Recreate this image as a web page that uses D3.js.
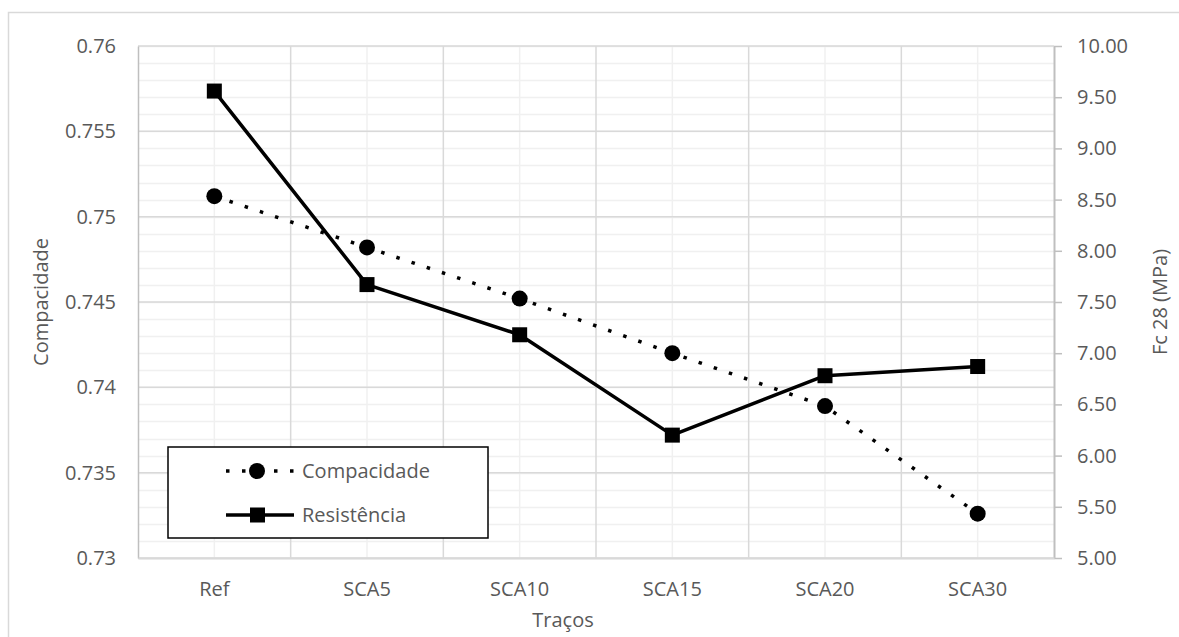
<!DOCTYPE html>
<html>
<head>
<meta charset="utf-8">
<script src="https://cdn.jsdelivr.net/npm/d3@7"></script>
<style>
  body { margin: 0; background: #fff; }
  text { font-family: "Open Sans", sans-serif; fill: #595959; }
</style>
</head>
<body>
<div id="chart"></div>
<script>
var categories = ["Ref", "SCA5", "SCA10", "SCA15", "SCA20", "SCA30"];
var compacidade = [0.7512, 0.7482, 0.7452, 0.7420, 0.7389, 0.7326];
var resistencia = [9.56, 7.67, 7.18, 6.20, 6.78, 6.87];
var leftTicks = [0.73, 0.735, 0.74, 0.745, 0.75, 0.755, 0.76];
var rightTicks = [5, 5.5, 6, 6.5, 7, 7.5, 8, 8.5, 9, 9.5, 10];

var _width = 1179, _height = 637,
    _margins = {top: 46, left: 138, right: 125, bottom: 79},
    _fontSize = "20px";

var svg = d3.select("#chart").append("svg")
    .attr("width", _width)
    .attr("height", _height);

// outer chart border
svg.append("rect")
    .attr("x", 8.5).attr("y", 12.5)
    .attr("width", 1200).attr("height", 700)
    .attr("fill", "none")
    .attr("stroke", "#d9d9d9")
    .attr("stroke-width", 1.5);

function quadrantWidth() { return _width - _margins.left - _margins.right; }
function quadrantHeight() { return _height - _margins.top - _margins.bottom; }

var x = d3.scaleBand().domain(categories).range([0, quadrantWidth()]).padding(0);
var yLeft = d3.scaleLinear().domain([0.73, 0.76]).range([quadrantHeight(), 0]);
var yRight = d3.scaleLinear().domain([5, 10]).range([quadrantHeight(), 0]);

var g = svg.append("g")
    .attr("transform", "translate(" + _margins.left + "," + _margins.top + ")");

// minor grid
var grid = g.append("g").attr("class", "grid");
grid.selectAll("line.hminor")
    .data(yLeft.ticks(30))
  .enter().append("line")
    .attr("x1", 0).attr("x2", quadrantWidth())
    .attr("y1", function (d) { return Math.round(yLeft(d)) + 0.5; })
    .attr("y2", function (d) { return Math.round(yLeft(d)) + 0.5; })
    .attr("stroke", "#f0f0f0").attr("stroke-width", 1.5);
grid.selectAll("line.vminor")
    .data(categories)
  .enter().append("line")
    .attr("x1", function (d) { return x(d) + x.bandwidth() / 2; })
    .attr("x2", function (d) { return x(d) + x.bandwidth() / 2; })
    .attr("y1", 0).attr("y2", quadrantHeight())
    .attr("stroke", "#f0f0f0").attr("stroke-width", 1.5);

// major grid
grid.selectAll("line.hmajor")
    .data(leftTicks)
  .enter().append("line")
    .attr("x1", 0).attr("x2", quadrantWidth())
    .attr("y1", function (d) { return yLeft(d); })
    .attr("y2", function (d) { return yLeft(d); })
    .attr("stroke", "#d9d9d9").attr("stroke-width", 1.5);
grid.selectAll("line.vmajor")
    .data(categories.slice(1))
  .enter().append("line")
    .attr("x1", function (d) { return x(d); })
    .attr("x2", function (d) { return x(d); })
    .attr("y1", 0).attr("y2", quadrantHeight())
    .attr("stroke", "#d9d9d9").attr("stroke-width", 1.5);

// axes
var leftAxis = g.append("g")
    .call(d3.axisLeft(yLeft).tickValues(leftTicks).tickSize(0).tickPadding(22)
      .tickFormat(function (d) { return String(+d.toFixed(3)); }));
leftAxis.select(".domain").attr("stroke", "#bfbfbf").attr("stroke-width", 1.5);
leftAxis.selectAll("text").style("font-size", _fontSize).attr("fill", "#595959");

var rightAxis = g.append("g")
    .attr("transform", "translate(" + quadrantWidth() + ",0)")
    .call(d3.axisRight(yRight).tickValues(rightTicks).tickSize(8).tickPadding(15)
      .tickSizeOuter(0)
      .tickFormat(d3.format(".2f")));
rightAxis.select(".domain").attr("stroke", "#bfbfbf").attr("stroke-width", 2);
rightAxis.selectAll("line").attr("stroke", "#bfbfbf").attr("stroke-width", 1.5);
rightAxis.selectAll("text").style("font-size", _fontSize).attr("fill", "#595959");

var bottomAxis = g.append("g")
    .attr("transform", "translate(0," + quadrantHeight() + ")")
    .call(d3.axisBottom(x).tickSize(0).tickPadding(24));
bottomAxis.select(".domain").attr("stroke", "#d9d9d9").attr("stroke-width", 2);
bottomAxis.selectAll("text").style("font-size", _fontSize).attr("fill", "#595959");

// axis titles
svg.append("text")
    .attr("x", 563).attr("y", 627)
    .attr("text-anchor", "middle")
    .style("font-size", _fontSize)
    .text("Traços");
svg.append("text")
    .attr("transform", "translate(48," + (_margins.top + quadrantHeight() / 2) + ") rotate(-90)")
    .attr("text-anchor", "middle")
    .style("font-size", _fontSize)
    .text("Compacidade");
svg.append("text")
    .attr("transform", "translate(1167," + (_margins.top + quadrantHeight() / 2) + ") rotate(-90)")
    .attr("text-anchor", "middle")
    .style("font-size", _fontSize)
    .text("Fc 28 (MPa)");

function cx(d, i) { return x(categories[i]) + x.bandwidth() / 2; }

// Compacidade: dotted line + circles
var compLine = d3.line()
    .x(cx)
    .y(function (d) { return yLeft(d); });
g.append("path")
    .attr("d", compLine(compacidade))
    .attr("fill", "none")
    .attr("stroke", "#000")
    .attr("stroke-width", 3.5)
    .attr("stroke-dasharray", "3.5,12.5");
g.selectAll("circle.comp")
    .data(compacidade)
  .enter().append("circle")
    .attr("cx", cx)
    .attr("cy", function (d) { return yLeft(d); })
    .attr("r", 8)
    .attr("fill", "#000");

// Resistencia: solid line + squares
var resLine = d3.line()
    .x(cx)
    .y(function (d) { return yRight(d); });
g.append("path")
    .attr("d", resLine(resistencia))
    .attr("fill", "none")
    .attr("stroke", "#000")
    .attr("stroke-width", 3.5)
    .attr("stroke-linejoin", "round");
g.selectAll("rect.res")
    .data(resistencia)
  .enter().append("rect")
    .attr("x", function (d, i) { return cx(d, i) - 7.5; })
    .attr("y", function (d) { return yRight(d) - 7.5; })
    .attr("width", 15).attr("height", 15)
    .attr("fill", "#000");

// legend
var legend = svg.append("g").attr("transform", "translate(168,447)");
legend.append("rect")
    .attr("width", 320).attr("height", 91)
    .attr("fill", "#fff")
    .attr("stroke", "#000")
    .attr("stroke-width", 1.5);
legend.append("line")
    .attr("x1", 58).attr("x2", 126).attr("y1", 24).attr("y2", 24)
    .attr("stroke", "#000").attr("stroke-width", 3.5)
    .attr("stroke-dasharray", "3.5,12.5");
legend.append("circle")
    .attr("cx", 89).attr("cy", 24).attr("r", 8).attr("fill", "#000");
legend.append("text")
    .attr("x", 134).attr("y", 24).attr("dy", "0.35em")
    .style("font-size", _fontSize)
    .text("Compacidade");
legend.append("line")
    .attr("x1", 58).attr("x2", 126).attr("y1", 68).attr("y2", 68)
    .attr("stroke", "#000").attr("stroke-width", 3.5);
legend.append("rect")
    .attr("x", 82).attr("y", 60.5).attr("width", 15).attr("height", 15)
    .attr("fill", "#000");
legend.append("text")
    .attr("x", 134).attr("y", 68).attr("dy", "0.35em")
    .style("font-size", _fontSize)
    .text("Resistência");
</script>
</body>
</html>
